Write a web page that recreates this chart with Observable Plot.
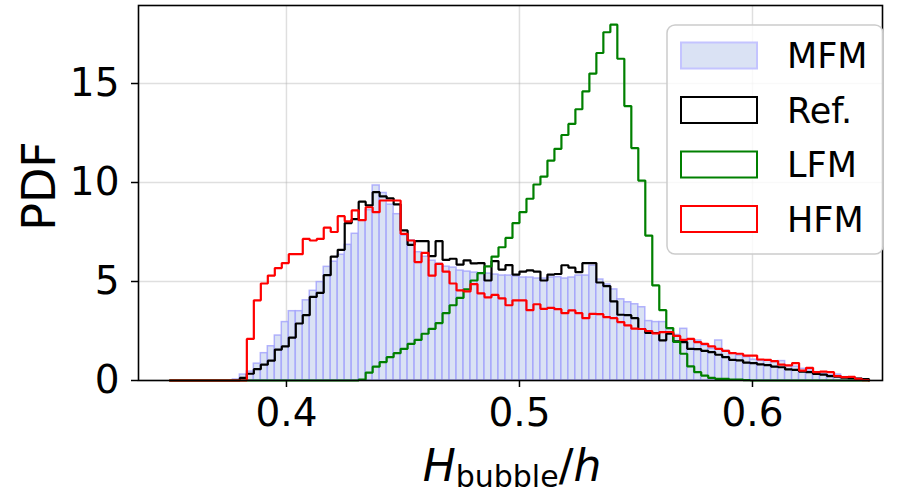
<!DOCTYPE html>
<html><head><meta charset="utf-8">
<script src="https://cdn.jsdelivr.net/npm/d3@7"></script>
<script src="https://cdn.jsdelivr.net/npm/@observablehq/plot@0.6"></script>
<style>
body{margin:0;background:#fff;}
#wrap{position:relative;width:899px;height:493px;}
</style></head><body><div id="wrap"></div>
<script>
// histogram bins: 100 bins of width 0.003 from 0.35 to 0.65
const binStart = 0.35, binWidth = 0.003, binCount = 100;
const xTicks = [0.4, 0.5, 0.6];
const yTicks = [0, 5, 10, 15];
const seriesNames = ["MFM", "Ref.", "LFM", "HFM"];

const mfm = [0,0,0,0,0,0,0,0,0,0.05,
0.3,0.45,0.85,1.38,1.73,2.27,2.95,3.5,3.5,4.05,
4.53,4.97,5.74,6.0,6.35,6.85,7.41,8.08,8.6,9.85,
9.47,8.88,8.4,7.32,7.07,6.48,6.25,6.05,5.9,5.75,
5.7,5.55,5.5,5.45,5.42,5.4,5.35,5.3,5.3,5.25,
5.2,5.2,5.15,5.15,5.2,5.22,5.15,5.2,5.3,5.3,
5.8,5.1,4.85,4.6,4.1,3.95,3.85,3.7,3.0,2.95,
2.95,2.6,2.3,2.61,2.05,2.02,1.75,1.6,2.02,1.5,
1.35,1.26,1.18,1.05,1.0,1.0,0.93,0.98,0.72,0.7,
0.59,0.51,0.42,0.34,0.27,0.3,0.17,0.13,0.08,0.05];

const ref = [0,0,0,0,0,0,0,0,0,0,
0.13,0.34,0.57,0.8,1.0,1.56,1.72,2.17,2.88,3.3,
4.22,4.43,5.32,6.26,6.6,7.95,8.15,9.03,8.84,9.51,
9.3,9.2,8.9,7.58,6.85,7.04,7.04,6.28,7.04,6.09,
6.15,5.85,6.07,5.92,5.93,5.05,6.03,5.6,5.83,5.35,
5.5,5.56,5.5,5.05,5.35,5.38,5.82,5.7,5.47,5.93,
5.93,4.95,4.77,4.0,3.32,3.3,3.15,2.6,2.4,2.4,
2.03,2.37,1.98,1.94,1.6,1.58,1.5,1.43,1.3,1.18,
1.04,1.02,0.9,0.88,0.81,0.78,0.7,0.67,0.56,0.54,
0.45,0.42,0.33,0.3,0.22,0.2,0.14,0.12,0.09,0.07];

const lfm = [0,0,0,0,0,0,0,0,0,0,
0,0,0,0,0,0,0,0,0,0,
0,0,0,0,0,0,0,0.05,0.4,0.7,
0.93,1.18,1.38,1.6,1.85,2.05,2.36,2.61,2.9,3.4,
3.8,4.17,4.6,5.05,5.42,5.76,6.26,6.73,7.2,7.95,
8.5,9.18,9.9,10.3,11.11,11.7,12.4,12.96,13.7,14.6,
15.5,16.54,17.59,17.97,16.25,13.86,11.74,10.1,7.32,4.8,
3.55,2.65,1.95,1.35,0.71,0.42,0.25,0.13,0.08,0.08,
0.04,0.04,0.02,0,0,0,0,0,0,0,
0,0,0,0,0,0,0,0,0,0];

const hfm = [0,0,0,0,0,0,0,0,0,0,
0,2.1,4.05,4.9,5.3,5.68,5.93,6.38,6.38,7.15,
7.07,7.15,7.72,7.5,8.3,8.04,8.59,8.1,8.75,8.5,
9.09,9.09,9.09,7.41,7.07,5.98,6.45,5.3,5.89,5.5,
4.9,4.55,4.5,4.87,4.4,4.2,4.32,4.15,3.8,4.05,
4.05,3.55,3.85,3.62,3.67,3.6,3.4,3.54,3.4,3.15,
3.37,3.35,3.2,3.15,2.95,2.78,2.62,2.6,2.5,2.38,
2.44,2.45,2.25,2.05,2.1,1.94,1.85,1.72,1.6,1.5,
1.38,1.35,1.26,1.26,1.06,1.04,0.98,0.8,0.76,0.88,
0.5,0.64,0.42,0.45,0.42,0.22,0.17,0.18,0.08,0.02];

const edges = d3.range(binCount + 1).map(i => +(binStart + binWidth * i).toFixed(4));
const bars = mfm.map((v, i) => ({x1: edges[i], x2: edges[i + 1], v})).filter(d => d.v > 0);
function stepPoints(vals) {
  const pts = [{x: edges[0], y: 0}];
  vals.forEach((v, i) => { pts.push({x: edges[i], y: v}); pts.push({x: edges[i + 1], y: v}); });
  pts.push({x: edges[binCount], y: 0});
  return pts;
}

const FONT = "DejaVu Sans, sans-serif";
const colors = {mfmFill: "#dae2f4", mfmStroke: "#a0a0fb", ref: "#000000", lfm: "#008000", hfm: "#ff0000"};

const chart = Plot.plot({
  width: 899, height: 493,
  marginLeft: 138, marginRight: 17, marginTop: 5, marginBottom: 113,
  style: {fontFamily: FONT, background: "#fff", color: "#000"},
  x: {domain: [0.3365, 0.6558]},
  y: {domain: [0, 18.94]},
  marks: [
    Plot.gridX(xTicks, {stroke: "#b0b0b0", strokeOpacity: 0.4, strokeWidth: 1.5}),
    Plot.gridY(yTicks, {stroke: "#b0b0b0", strokeOpacity: 0.4, strokeWidth: 1.5}),
    Plot.rectY(bars, {x1: "x1", x2: "x2", y: "v", fill: colors.mfmFill, stroke: colors.mfmStroke, strokeOpacity: 0.8, strokeWidth: 1.5}),
    Plot.line(stepPoints(ref), {x: "x", y: "y", stroke: colors.ref, strokeWidth: 2.2, strokeLinejoin: "miter"}),
    Plot.line(stepPoints(lfm), {x: "x", y: "y", stroke: colors.lfm, strokeWidth: 2.2, strokeLinejoin: "miter"}),
    Plot.line(stepPoints(hfm), {x: "x", y: "y", stroke: colors.hfm, strokeWidth: 2.2, strokeLinejoin: "miter"}),
    Plot.frame({stroke: "#000", strokeWidth: 1.6}),
    Plot.axisX({ticks: xTicks, tickFormat: d => d.toFixed(1), tickSize: 7, tickPadding: 11, fontSize: 39, label: null, strokeWidth: 1.5}),
    Plot.axisY({ticks: yTicks, tickFormat: d => String(d), tickSize: 7, tickPadding: 12, fontSize: 39, label: null, strokeWidth: 1.5})
  ]
});

document.getElementById("wrap").appendChild(chart);
const svg = d3.select(chart);

// y label
svg.append("text").attr("transform", "translate(55,186) rotate(-90)")
  .attr("text-anchor", "middle").attr("font-family", FONT).attr("font-size", 46).attr("fill", "#000").text("PDF");

// x label: H_bubble / h
const xl = svg.append("text").attr("x", 512).attr("y", 481).attr("text-anchor", "middle")
  .attr("font-family", FONT).attr("font-size", 44).attr("fill", "#000");
xl.append("tspan").attr("font-style", "italic").text("H");
xl.append("tspan").attr("font-size", 30).attr("dy", 6).text("bubble");
xl.append("tspan").attr("dy", -6).text("/");
xl.append("tspan").attr("font-style", "italic").text("h");

// legend
const lg = svg.append("g").attr("text-anchor", "start");
lg.append("rect").attr("x", 667).attr("y", 25).attr("width", 216).attr("height", 229).attr("rx", 8)
  .attr("fill", "#fff").attr("fill-opacity", 0.8).attr("stroke", "#cccccc").attr("stroke-width", 1.5);
const entries = [
  {name: seriesNames[0], fill: colors.mfmFill, stroke: "#c4c4ff"},
  {name: seriesNames[1], fill: "#fff", stroke: colors.ref},
  {name: seriesNames[2], fill: "#fff", stroke: colors.lfm},
  {name: seriesNames[3], fill: "#fff", stroke: colors.hfm}
];
entries.forEach((e, i) => {
  const cy = 55.5 + i * 54.5;
  lg.append("rect").attr("x", 681).attr("y", cy - 13).attr("width", 76).attr("height", 26)
    .attr("fill", e.fill).attr("stroke", e.stroke).attr("stroke-width", 2);
  lg.append("text").attr("x", 787).attr("y", cy + 12.5).attr("text-anchor", "start")
    .attr("font-family", FONT).attr("font-size", 35).attr("fill", "#000").text(e.name);
});
</script>
</body></html>
